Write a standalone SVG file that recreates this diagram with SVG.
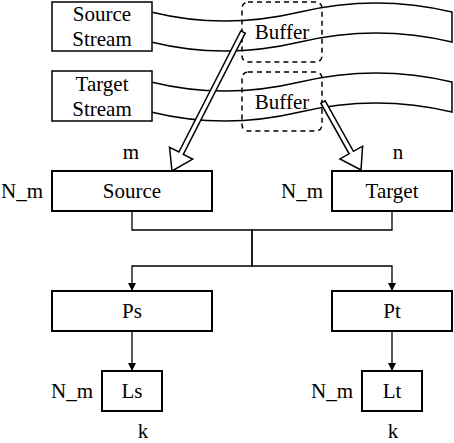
<svg xmlns="http://www.w3.org/2000/svg" width="454" height="443" viewBox="0 0 454 443">
<style>
text{font-family:"Liberation Serif","Times New Roman",serif;font-size:21px;fill:#000;text-anchor:middle}
.box{fill:#fff;stroke:#000;stroke-width:2}
.sbox{fill:#fff;stroke:#000;stroke-width:1.5}
.tape{fill:#fff;stroke:#000;stroke-width:1.5}
.buf{fill:none;stroke:#000;stroke-width:1.5;stroke-dasharray:5 4}
.edge{fill:none;stroke:#000;stroke-width:1.3}
.flex{fill:#fff;stroke:#000;stroke-width:1.5;stroke-linejoin:miter}
</style>
<defs>
<marker id="ah" viewBox="0 0 10 10" refX="10" refY="5" markerWidth="8" markerHeight="8" markerUnits="userSpaceOnUse" orient="auto"><path d="M0,0 L10,5 L0,10 z" fill="#000"/></marker>
</defs>
<g id="source-tape"><path class="tape" d="M151,12 Q224,30 300,12 Q376,-6 452,12 L452,42 Q376,24 300,42 Q224,60 151,42 Z"/></g>
<g id="target-tape"><path class="tape" d="M151,82 Q224,100 300,82 Q376,64 452,82 L452,112 Q376,94 300,112 Q224,130 151,112 Z"/></g>
<g id="source-stream"><rect class="sbox" x="52" y="2" width="100" height="49"/><text x="102" y="21">Source</text><text x="102" y="46">Stream</text></g>
<g id="target-stream"><rect class="sbox" x="52" y="71" width="100" height="50"/><text x="102" y="91">Target</text><text x="102" y="116">Stream</text></g>
<g id="buffer1"><rect class="buf" x="242" y="2" width="80" height="60" rx="6"/><text x="282" y="39">Buffer</text></g>
<g id="buffer2"><rect class="buf" x="242" y="72" width="80" height="59" rx="6"/><text x="282" y="109">Buffer</text></g>
<g id="connectors">
<polygon class="flex" points="245.2,33.1 183.3,154.3 192.7,159.1 172,171 169.5,147.3 178.9,152 240.8,30.9"/>
<polygon class="flex" points="325.2,100.8 353.4,151.3 362.6,146.2 361,170 339.9,158.9 349.1,153.8 320.8,103.2"/>
<path class="edge" d="M132,211 V230 H252 V266 H132 V291" marker-end="url(#ah)"/>
<path class="edge" d="M392,211 V230 H252 V266 H392 V291" marker-end="url(#ah)"/>
<path class="edge" d="M132,331 V371" marker-end="url(#ah)"/>
<path class="edge" d="M392,331 V371" marker-end="url(#ah)"/>
</g>
<g id="source"><rect class="box" x="52" y="171" width="160" height="40"/><text x="132" y="198">Source</text></g>
<g id="target"><rect class="box" x="332" y="171" width="120" height="40"/><text x="392" y="198">Target</text></g>
<g id="ps"><rect class="box" x="52" y="291" width="160" height="40"/><text x="132" y="318">Ps</text></g>
<g id="pt"><rect class="box" x="332" y="291" width="120" height="40"/><text x="392" y="318">Pt</text></g>
<g id="ls"><rect class="box" x="102" y="371" width="60" height="40"/><text x="132" y="398">Ls</text></g>
<g id="lt"><rect class="box" x="362" y="371" width="60" height="40"/><text x="392" y="398">Lt</text></g>
<g id="labels">
<text x="131" y="159">m</text>
<text x="398" y="159">n</text>
<text x="22" y="198">N_m</text>
<text x="302" y="198">N_m</text>
<text x="72" y="398">N_m</text>
<text x="332" y="398">N_m</text>
<text x="143" y="438">k</text>
<text x="393" y="438">k</text>
</g>
</svg>
